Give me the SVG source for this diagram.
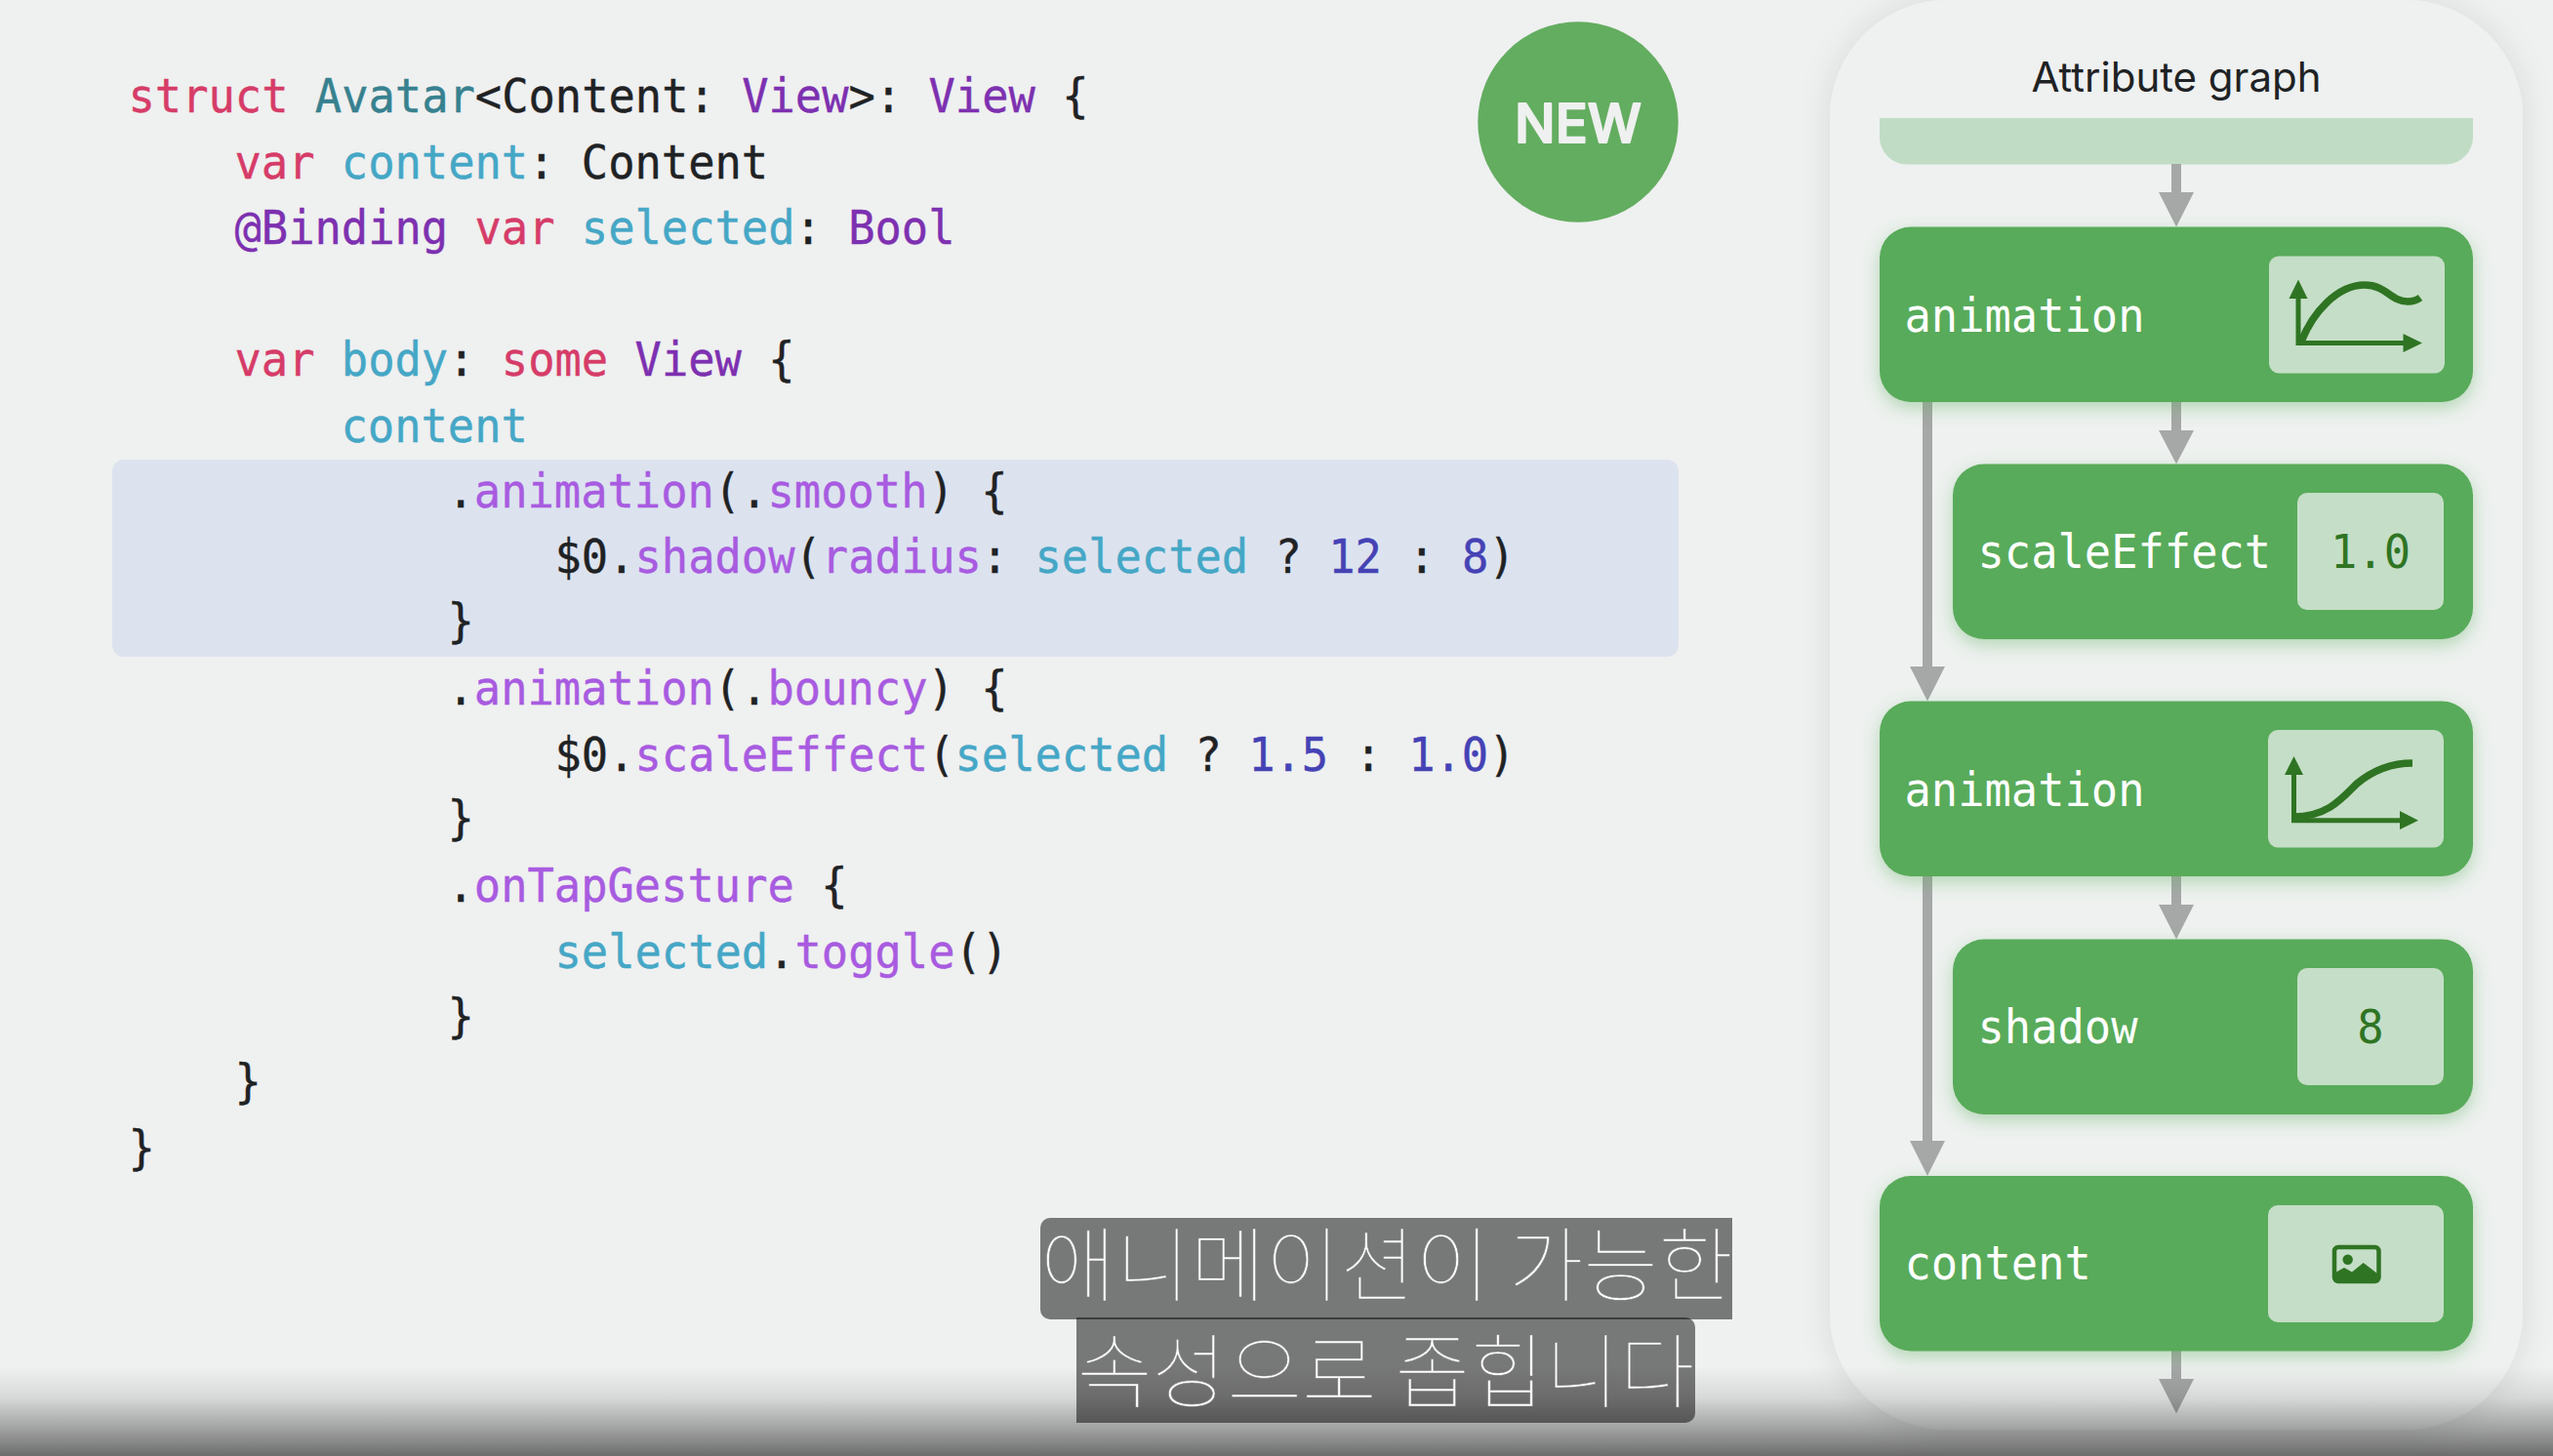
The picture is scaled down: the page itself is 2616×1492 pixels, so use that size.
<svg xmlns="http://www.w3.org/2000/svg" width="2616" height="1492" viewBox="0 0 2616 1492">
<style>
.c{font-family:"DejaVu Sans Mono","Liberation Mono",monospace;font-size:45.42px;fill:#1f2224;stroke:#1f2224;stroke-width:.4}
.k{fill:#d63c68;stroke:#d63c68}.t{fill:#37818f;stroke:#37818f}.v{fill:#7d30b0;stroke:#7d30b0}.b{fill:#45a7c6;stroke:#45a7c6}.m{fill:#a85be0;stroke:#a85be0}.n{fill:#4542b5;stroke:#4542b5}
.nb{fill:#59ab5a;filter:url(#glow)}
.in{fill:#c5dec7}
.lb{font-family:"DejaVu Sans Mono","Liberation Mono",monospace;font-size:45.42px;fill:#fff}
.val{font-family:"DejaVu Sans Mono","Liberation Mono",monospace;font-size:45.42px;fill:#2f7423;text-anchor:middle}
.ax{fill:none;stroke:#2f7423;stroke-width:5}
.cv{fill:none;stroke:#2f7423;stroke-width:7.5}
.hd{fill:#2f7423}
.sh{stroke:#a6a7a7;stroke-width:10;fill:none}
.ah{fill:#a6a7a7}
.sb{font-family:"Noto Sans CJK KR",sans-serif;font-size:83.5px;font-weight:100;fill:#fff;stroke:#777;stroke-width:.6;text-anchor:middle}
.box{fill:#000;fill-opacity:.5}
</style>
<defs>
<filter id="glow" x="-10%" y="-15%" width="120%" height="135%"><feDropShadow dx="0" dy="6" stdDeviation="9" flood-color="#59ab5a" flood-opacity=".4"/></filter>
<filter id="pan" x="-10%" y="-10%" width="120%" height="120%"><feDropShadow dx="0" dy="0" stdDeviation="16" flood-color="#000" flood-opacity=".1"/></filter>
<linearGradient id="fade" x1="0" y1="0" x2="0" y2="1">
<stop offset="0" stop-color="#000" stop-opacity="0"/>
<stop offset=".35" stop-color="#000" stop-opacity=".1"/>
<stop offset=".7" stop-color="#000" stop-opacity=".33"/>
<stop offset="1" stop-color="#000" stop-opacity=".55"/>
</linearGradient>
</defs>
<rect width="2616" height="1492" fill="#eff0f0"/>
<rect id="panel" x="1875" y="0" width="710" height="1465" rx="120" fill="#eef1f0" filter="url(#pan)"/>
<rect id="highlight" x="115" y="471" width="1605" height="202" rx="12" fill="#dce3ef"/>
<g id="code" xml:space="preserve">
<text class="c" transform="translate(131.5 115) scale(1 1.07)"><tspan class="k">struct</tspan> <tspan class="t">Avatar</tspan>&lt;Content: <tspan class="v">View</tspan>&gt;: <tspan class="v">View</tspan> {</text>
<text class="c" transform="translate(240.5 182.5) scale(1 1.07)"><tspan class="k">var</tspan> <tspan class="b">content</tspan>: Content</text>
<text class="c" transform="translate(240.5 250) scale(1 1.07)"><tspan class="v">@Binding</tspan> <tspan class="k">var</tspan> <tspan class="b">selected</tspan>: <tspan class="v">Bool</tspan></text>
<text class="c" transform="translate(240.5 385) scale(1 1.07)"><tspan class="k">var</tspan> <tspan class="b">body</tspan>: <tspan class="k">some</tspan> <tspan class="v">View</tspan> {</text>
<text class="c" transform="translate(349.5 452.5) scale(1 1.07)"><tspan class="b">content</tspan></text>
<text class="c" transform="translate(458.5 520) scale(1 1.07)">.<tspan class="m">animation</tspan>(.<tspan class="m">smooth</tspan>) {</text>
<text class="c" transform="translate(568.5 587) scale(1 1.07)">$0.<tspan class="m">shadow</tspan>(<tspan class="m">radius</tspan>: <tspan class="b">selected</tspan> ? <tspan class="n">12</tspan> : <tspan class="n">8</tspan>)</text>
<text class="c" transform="translate(458.5 653) scale(1 1.07)">}</text>
<text class="c" transform="translate(458.5 722) scale(1 1.07)">.<tspan class="m">animation</tspan>(.<tspan class="m">bouncy</tspan>) {</text>
<text class="c" transform="translate(568.5 789.5) scale(1 1.07)">$0.<tspan class="m">scaleEffect</tspan>(<tspan class="b">selected</tspan> ? <tspan class="n">1.5</tspan> : <tspan class="n">1.0</tspan>)</text>
<text class="c" transform="translate(458.5 855) scale(1 1.07)">}</text>
<text class="c" transform="translate(458.5 924) scale(1 1.07)">.<tspan class="m">onTapGesture</tspan> {</text>
<text class="c" transform="translate(568.5 992) scale(1 1.07)"><tspan class="b">selected</tspan>.<tspan class="m">toggle</tspan>()</text>
<text class="c" transform="translate(458.5 1057.500) scale(1 1.07)">}</text>
<text class="c" transform="translate(240.5 1125) scale(1 1.07)">}</text>
<text class="c" transform="translate(131.5 1192.500) scale(1 1.07)">}</text>
</g>
<g id="badge-new">
<circle cx="1617" cy="125" r="102.7" fill="#63ad60"/>
<text x="1617" y="145.500" text-anchor="middle" font-family="Inter,'Noto Sans',sans-serif" font-size="55" font-weight="500" fill="#eff0f0" stroke="#eff0f0" stroke-width="2" stroke-linejoin="round">NEW</text>
</g>
<text id="title" x="2230" y="94" text-anchor="middle" font-family="Inter,'Noto Sans',sans-serif" font-size="42" fill="#1f2224">Attribute graph</text>
<path id="top-bar" d="M1926 121H2534V140A28 28 0 0 1 2506 168.500H1954A28 28 0 0 1 1926 140Z" fill="#c1dcc5"/>
<g id="connectors">
<path class="sh" d="M2230 168V198M2230 412V442M2230 898V928M2230 1384V1414M1975 412V684M1975 898V1170"/>
<path class="ah" d="M2212 197H2248L2230 232.500ZM2212 441H2248L2230 475.500ZM2212 927H2248L2230 962.500ZM2212 1413H2248L2230 1448.500ZM1957 683H1993L1975 718.500ZM1957 1169H1993L1975 1205Z"/>
</g>
<g id="node-animation-1">
<rect class="nb" x="1926" y="232.500" width="608" height="179.500" rx="32"/>
<text class="lb" transform="translate(1951.500 340) scale(1 1.07)">animation</text>
<rect class="in" x="2325" y="262.500" width="180" height="120" rx="10"/>
<path class="ax" d="M2355 304V351.500H2465"/>
<path class="hd" d="M2345.500 306L2355 286.500L2364.500 306ZM2462.500 342L2482 351.500L2462.500 361Z"/>
<path class="cv" d="M2358 350C2370 320 2395 292 2423 292C2445 292 2450 309 2467 309C2472 309 2476 308 2480 305"/>
</g>
<g id="node-scaleEffect">
<rect class="nb" x="2001" y="475.500" width="533" height="179.500" rx="32"/>
<text class="lb" transform="translate(2026.500 582) scale(1 1.07)">scaleEffect</text>
<rect class="in" x="2354" y="505" width="150" height="120" rx="10"/>
<text class="val" transform="translate(2429 582) scale(1 1.07)">1.0</text>
</g>
<g id="node-animation-2">
<rect class="nb" x="1926" y="718.500" width="608" height="179.500" rx="32"/>
<text class="lb" transform="translate(1951.500 825.500) scale(1 1.07)">animation</text>
<rect class="in" x="2324" y="748" width="180" height="120.500" rx="10"/>
<path class="ax" d="M2350.500 792V840.700H2462"/>
<path class="hd" d="M2341 794L2350.500 775L2360 794ZM2459 831L2478 840.700L2459 850Z"/>
<path class="cv" d="M2350 837C2385 837 2400 818 2415 803C2432 789 2452 782 2472 782"/>
</g>
<g id="node-shadow">
<rect class="nb" x="2001" y="962.500" width="533" height="179.500" rx="32"/>
<text class="lb" transform="translate(2026.500 1069) scale(1 1.07)">shadow</text>
<rect class="in" x="2354" y="992" width="150" height="120" rx="10"/>
<text class="val" transform="translate(2429 1069) scale(1 1.07)">8</text>
</g>
<g id="node-content">
<rect class="nb" x="1926" y="1205" width="608" height="179.500" rx="32"/>
<text class="lb" transform="translate(1951.500 1311) scale(1 1.07)">content</text>
<rect class="in" x="2324" y="1235" width="180" height="120" rx="10"/>
<rect x="2392" y="1278" width="45.500" height="35" rx="4" fill="none" stroke="#2f7423" stroke-width="4.500"/>
<circle cx="2405.700" cy="1290.700" r="5.200" fill="#2f7423"/>
<path class="hd" d="M2393 1304L2402 1299L2410 1303.500L2421.700 1294L2436 1305V1314H2393Z"/>
</g>
<rect id="bottom-fade" x="0" y="1400" width="2616" height="92" fill="url(#fade)"/>
<g id="subtitles">
<path class="box" d="M1076 1248H1775V1352H1076A10 10 0 0 1 1066 1342V1258A10 10 0 0 1 1076 1248Z"/>
<path class="box" d="M1103 1350H1727A10 10 0 0 1 1737 1360V1448A10 10 0 0 1 1727 1458H1103Z"/>
<text class="sb" x="1421" y="1327">애니메이션이 가능한</text>
<text class="sb" x="1420" y="1436">속성으로 좁힙니다</text>
</g>
</svg>
